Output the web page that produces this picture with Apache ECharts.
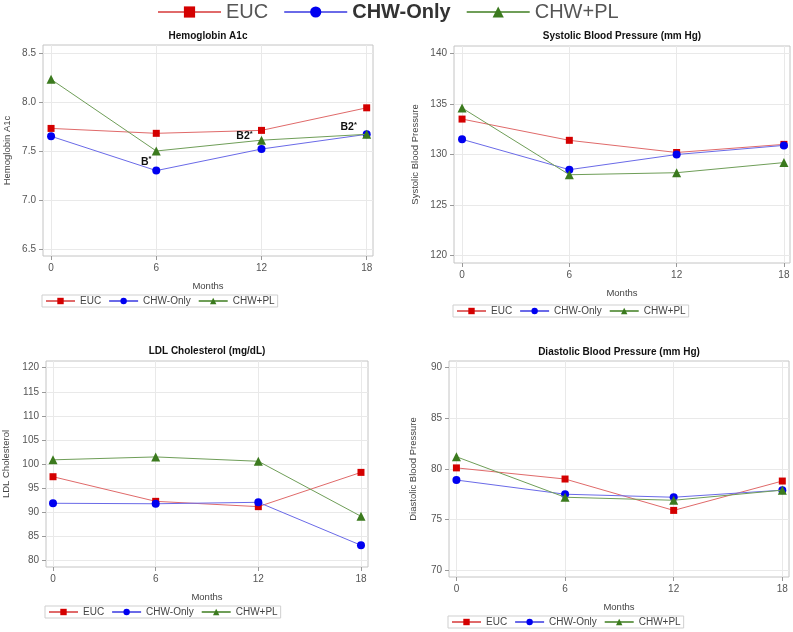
<!DOCTYPE html>
<html>
<head>
<meta charset="utf-8">
<script src="https://cdn.jsdelivr.net/npm/echarts@6/dist/echarts.min.js"></script>
<style>
  html, body { margin: 0; padding: 0; background: #fff; }
  #main { width: 793px; height: 632px; }
</style>
</head>
<body>
<div id="main"></div>
<script>
// 数据
var months = [0, 6, 12, 18];
var groupNames = ['EUC', 'CHW-Only', 'CHW+PL'];

var hba1cEUC = [7.73, 7.68, 7.71, 7.94];
var hba1cCHW = [7.65, 7.30, 7.52, 7.67];
var hba1cPL = [8.23, 7.50, 7.61, 7.67];
var hba1cTicks = [6.5, 7.0, 7.5, 8.0, 8.5];

var sbpEUC = [133.5, 131.4, 130.2, 131.0];
var sbpCHW = [131.5, 128.5, 130.0, 130.9];
var sbpPL = [134.6, 128.0, 128.2, 129.2];
var sbpTicks = [120, 125, 130, 135, 140];

var ldlEUC = [97.4, 92.3, 91.2, 98.3];
var ldlCHW = [91.9, 91.8, 92.1, 83.2];
var ldlPL = [100.9, 101.5, 100.6, 89.2];
var ldlTicks = [80, 85, 90, 95, 100, 105, 110, 115, 120];

var dbpEUC = [80.1, 79.0, 75.9, 78.8];
var dbpCHW = [78.9, 77.5, 77.2, 77.9];
var dbpPL = [81.2, 77.2, 76.9, 77.9];
var dbpTicks = [70, 75, 80, 85, 90];

// 标注 (series, month index, text)
var hba1cNotes = [
    {group: 'CHW-Only', index: 1, text: 'B'},
    {group: 'CHW+PL', index: 2, text: 'B2'},
    {group: 'CHW+PL', index: 3, text: 'B2'}
];

var FONT = 'Liberation Sans, Arial, sans-serif';
var markerColors = ['#d40000', '#0000f0', '#3b7a1e'];
var lineColors = ['#e06a6a', '#6a6ae8', '#6f9e58'];
var symbols = ['rect', 'circle', 'triangle'];
var symbolSizes = [7, 8, 9];

var panels = [
    {
        title: 'Hemoglobin A1c', yName: 'Hemoglobin A1c',
        values: [hba1cEUC, hba1cCHW, hba1cPL], ticks: hba1cTicks, digits: 1,
        grid: {left: 43, top: 45, width: 330, height: 211},
        x: [-0.46, 18.36], y: [6.43, 8.58], yGap: 31,
        titleTop: 31, legendTop: 295, notes: hba1cNotes,
        noteOffsets: [[-10, -9], [-17, -4], [-18, -7]]
    },
    {
        title: 'Systolic Blood Pressure (mm Hg)', yName: 'Systolic Blood Pressure',
        values: [sbpEUC, sbpCHW, sbpPL], ticks: sbpTicks, digits: 0,
        grid: {left: 454, top: 46, width: 336, height: 217},
        x: [-0.45, 18.34], y: [119.28, 140.72], yGap: 34,
        titleTop: 31, legendTop: 305, notes: []
    },
    {
        title: 'LDL Cholesterol (mg/dL)', yName: 'LDL Cholesterol',
        values: [ldlEUC, ldlCHW, ldlPL], ticks: ldlTicks, digits: 0,
        grid: {left: 46, top: 361, width: 322, height: 206},
        x: [-0.41, 18.41], y: [78.7, 121.37], yGap: 35,
        titleTop: 346, legendTop: 606, notes: []
    },
    {
        title: 'Diastolic Blood Pressure (mm Hg)', yName: 'Diastolic Blood Pressure',
        values: [dbpEUC, dbpCHW, dbpPL], ticks: dbpTicks, digits: 0,
        grid: {left: 449, top: 361, width: 340, height: 216},
        x: [-0.41, 18.37], y: [69.32, 90.66], yGap: 31,
        titleTop: 347, legendTop: 616, notes: []
    }
];

function buildOption() {
    var option = {
        backgroundColor: '#fff',
        animation: false,
        textStyle: {fontFamily: FONT},
        title: [], grid: [], xAxis: [], yAxis: [], series: [],
        legend: [{
            left: 157, top: 2,
            itemWidth: 63, itemHeight: 14, itemGap: 15,
            padding: 0,
            textStyle: {fontSize: 20, color: '#555', fontFamily: FONT},
            data: [
                {name: 'EUC'},
                {name: 'CHW-Only', textStyle: {fontWeight: 'bold', color: '#333'}},
                {name: 'CHW+PL'}
            ]
        }]
    };

    panels.forEach(function (p, i) {
        var g = p.grid;
        option.grid.push({
            left: g.left, top: g.top, width: g.width, height: g.height,
            show: true, borderColor: '#c4c4c4', borderWidth: 1
        });
        option.title.push({
            text: p.title,
            left: g.left + g.width / 2, top: p.titleTop, textAlign: 'center',
            padding: 0,
            textStyle: {fontSize: 10, fontWeight: 'bold', color: '#111', fontFamily: FONT}
        });
        option.legend.push({
            left: g.left - 1, top: p.legendTop,
            orient: 'horizontal',
            itemWidth: 29, itemHeight: 8, itemGap: 7,
            padding: [1, 3],
            borderColor: '#cfcfcf', borderWidth: 1,
            textStyle: {fontSize: 10, color: '#444', fontFamily: FONT},
            data: groupNames
        });
        option.xAxis.push({
            type: 'value', gridIndex: i,
            min: p.x[0], max: p.x[1],
            name: 'Months', nameLocation: 'middle', nameGap: 25,
            nameTextStyle: {fontSize: 9.5, color: '#444', fontFamily: FONT},
            axisLine: {show: false, onZero: false},
            axisTick: {show: true, length: 4, lineStyle: {color: '#999'}, customValues: months},
            axisLabel: {fontSize: 10, color: '#555', margin: 7, customValues: months, fontFamily: FONT},
            splitLine: {show: true, lineStyle: {color: '#e9e9e9'}}
        });
        option.yAxis.push({
            type: 'value', gridIndex: i,
            min: p.y[0], max: p.y[1],
            name: p.yName, nameLocation: 'middle', nameGap: p.yGap,
            nameTextStyle: {fontSize: 9.5, color: '#444', fontFamily: FONT},
            axisLine: {show: false, onZero: false},
            axisTick: {show: true, length: 4, lineStyle: {color: '#999'}, customValues: p.ticks},
            axisLabel: {
                fontSize: 10, color: '#555', margin: 7, customValues: p.ticks, fontFamily: FONT,
                formatter: function (v) { return v.toFixed(p.digits); }
            },
            splitLine: {show: true, lineStyle: {color: '#e9e9e9'}}
        });

        groupNames.forEach(function (name, k) {
            var data = months.map(function (m, j) { return [m, p.values[k][j]]; });
            p.notes.forEach(function (n, ni) {
                if (n.group !== name) return;
                data[n.index] = {
                    value: data[n.index],
                    label: {
                        show: true, position: 'inside',
                        offset: p.noteOffsets[ni],
                        formatter: '{b|' + n.text + '}{s|*}',
                        rich: {
                            b: {fontSize: 10.5, fontWeight: 'bold', color: '#111', fontFamily: FONT},
                            s: {fontSize: 7.5, fontWeight: 'bold', color: '#111', padding: [0, 0, 5, 0], fontFamily: FONT}
                        }
                    }
                };
            });
            option.series.push({
                name: name, type: 'line',
                xAxisIndex: i, yAxisIndex: i,
                data: data,
                symbol: symbols[k], symbolSize: symbolSizes[k],
                itemStyle: {color: markerColors[k]},
                lineStyle: {color: lineColors[k], width: 1},
                z: 3 + k
            });
        });
    });
    return option;
}

var chart = echarts.init(document.getElementById('main'));
chart.setOption(buildOption());
</script>
</body>
</html>
